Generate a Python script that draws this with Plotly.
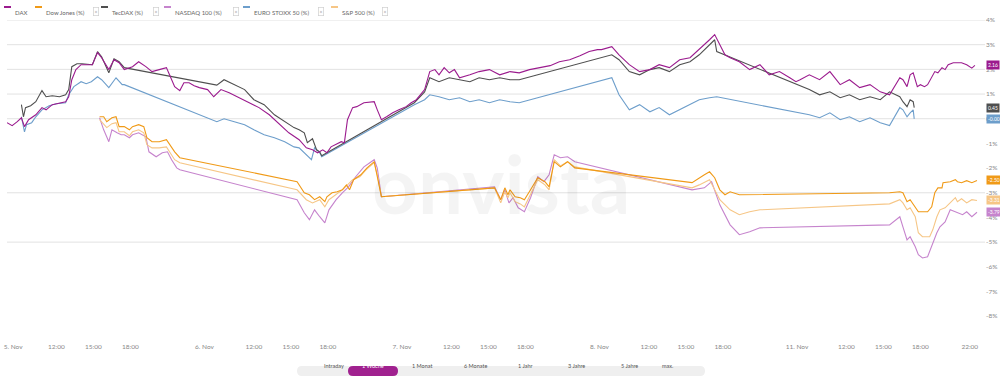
import plotly.graph_objects as go
import pandas as pd

# ---------------- data (percent change) ----------------
dax_time = ["11-05 08:00","11-05 08:25","11-05 08:50","11-05 09:10","11-05 09:25","11-05 09:45","11-05 10:20","11-05 10:50","11-05 11:10","11-05 11:40","11-05 12:45","11-05 13:00","11-05 13:15","11-05 13:35","11-05 14:00","11-05 14:25","11-05 14:55","11-05 15:20","11-05 15:40","11-05 16:15","11-05 16:40","11-05 17:05","11-05 17:30","11-05 18:10","11-05 18:40","11-05 19:15","11-05 19:45","11-05 20:20","11-05 20:55","11-05 21:10","11-05 21:35","11-05 22:00","11-05 22:20","11-05 22:45","11-05 23:10","11-05 23:35",
            "11-06 08:15","11-06 08:45","11-06 09:20","11-06 10:00","11-06 10:50","11-06 11:40","11-06 12:25","11-06 13:15","11-06 14:05","11-06 14:50","11-06 15:40","11-06 16:15","11-06 16:45","11-06 17:10","11-06 17:35","11-06 17:55","11-06 18:15","11-06 18:40","11-06 19:05","11-06 19:20","11-06 19:35","11-06 20:00","11-06 20:20","11-06 20:55","11-06 21:45","11-06 22:00","11-06 22:20","11-06 22:45","11-06 23:15","11-06 23:45",
            "11-07 08:20","11-07 08:45","11-07 09:10","11-07 09:50","11-07 10:15","11-07 10:40","11-07 11:00","11-07 11:25","11-07 11:50","11-07 12:15","11-07 12:40","11-07 13:30","11-07 14:15","11-07 15:05","11-07 15:55","11-07 16:45","11-07 17:30","11-07 18:20","11-07 19:10","11-07 20:00","11-07 20:45","11-07 21:35","11-07 22:25","11-07 23:10","11-07 23:50",
            "11-08 08:10","11-08 09:00","11-08 09:35","11-08 10:25","11-08 11:15","11-08 12:05","11-08 12:50","11-08 13:40","11-08 14:30","11-08 15:20","11-08 16:05","11-08 16:30","11-08 16:55","11-08 17:20","11-08 17:45","11-08 18:10","11-08 18:35","11-08 19:20","11-08 20:10","11-08 21:00","11-08 21:45","11-08 22:35","11-08 23:25","11-08 23:55",
            "11-11 08:15","11-11 09:00","11-11 09:50","11-11 10:40","11-11 11:30","11-11 12:15","11-11 13:05","11-11 13:55","11-11 14:45","11-11 15:30","11-11 16:20","11-11 16:35","11-11 16:55","11-11 17:10","11-11 17:25","11-11 17:45","11-11 18:00","11-11 18:20","11-11 18:35","11-11 18:55","11-11 19:10","11-11 19:25","11-11 19:45","11-11 20:00","11-11 20:15","11-11 20:40","11-11 21:20","11-11 21:45","11-11 22:10","11-11 22:25"]
dax_pct = [-0.16,-0.28,-0.12,0.04,-0.32,-0.04,0.16,0.45,0.36,0.57,0.69,0.89,1.58,1.99,2.19,2.19,2.19,2.68,2.47,1.99,2.39,2.27,1.99,2.11,2.31,2.11,1.91,1.99,2.07,1.78,1.30,1.14,1.46,1.46,1.34,1.26,
           1.18,0.89,1.18,1.05,0.85,0.65,0.45,0.16,-0.24,-0.57,-0.85,-1.18,-1.26,-1.38,-1.26,-1.38,-1.14,-1.05,-0.93,-0.97,-0.04,0.45,0.49,0.65,0.69,0.36,-0.04,0.08,0.24,0.36,
           0.49,0.65,0.77,1.18,1.91,1.99,1.78,2.07,1.86,1.99,1.66,1.78,1.91,1.99,1.78,1.91,1.86,1.99,2.07,2.15,2.31,2.39,2.55,2.72,2.80,
           2.80,2.92,2.59,2.19,1.91,1.99,2.19,2.07,2.39,2.47,2.80,3.00,3.20,3.41,3.00,2.59,2.47,2.31,1.99,2.19,1.78,1.91,1.66,1.50,
           1.58,1.78,1.58,1.91,1.38,1.58,1.26,1.38,1.09,0.97,1.66,1.58,1.30,1.78,1.86,1.30,1.38,1.30,1.38,1.70,1.91,1.86,2.07,1.99,2.19,2.27,2.27,2.19,2.05,2.16]

tecdax_time = ["11-05 09:10","11-05 09:20","11-05 09:30","11-05 09:55","11-05 10:20","11-05 10:50","11-05 11:10","11-05 11:40","11-05 12:15","11-05 12:45","11-05 13:00","11-05 13:15","11-05 13:40","11-05 14:05","11-05 14:55","11-05 15:20","11-05 15:40","11-05 16:15","11-05 16:40","11-05 17:05","11-05 17:30",
               "11-06 09:00","11-06 09:35","11-06 10:25","11-06 11:15","11-06 12:00","11-06 12:50","11-06 13:40","11-06 14:30","11-06 15:15","11-06 15:40","11-06 16:05","11-06 16:20","11-06 16:45","11-06 17:05","11-06 17:20","11-06 17:30",
               "11-07 09:00","11-07 09:50","11-07 10:15","11-07 11:00","11-07 11:50","11-07 12:40","11-07 13:30","11-07 14:15","11-07 15:05","11-07 15:55","11-07 16:45","11-07 17:30",
               "11-08 09:00","11-08 09:35","11-08 10:25","11-08 11:15","11-08 12:05","11-08 12:50","11-08 13:40","11-08 14:30","11-08 15:20","11-08 16:05","11-08 16:55","11-08 17:20","11-08 17:30",
               "11-11 09:00","11-11 09:50","11-11 10:40","11-11 11:30","11-11 12:15","11-11 13:05","11-11 13:55","11-11 14:45","11-11 15:30","11-11 16:20","11-11 16:35","11-11 16:55","11-11 17:10","11-11 17:25","11-11 17:30"]
tecdax_pct = [0.57,0.08,0.45,0.53,0.69,1.14,0.89,0.93,0.89,0.97,1.18,2.11,2.23,2.23,2.19,2.72,2.51,1.86,2.43,2.31,2.07,
              1.36,1.58,1.38,1.18,0.77,0.57,0.16,-0.12,-0.36,-0.45,-0.57,-0.97,-0.81,-1.26,-1.34,-1.50,
              0.65,1.09,1.66,1.50,1.66,1.58,1.50,1.66,1.58,1.66,1.58,1.58,
              2.59,2.39,1.91,1.78,1.99,2.07,1.91,2.19,2.31,2.59,3.00,3.20,2.72,
              1.18,0.97,1.09,0.85,0.97,0.77,0.89,0.77,1.09,0.89,0.69,0.49,0.77,0.69,0.45]

stoxx_time = ["11-05 09:10","11-05 09:25","11-05 09:35","11-05 10:00","11-05 10:20","11-05 10:50","11-05 11:25","11-05 12:00","11-05 12:45","11-05 13:00","11-05 13:25","11-05 14:00","11-05 14:25","11-05 14:50","11-05 15:20","11-05 15:40","11-05 16:15","11-05 16:50","11-05 17:20","11-05 17:30",
              "11-06 09:00","11-06 09:35","11-06 10:25","11-06 11:15","11-06 12:00","11-06 12:50","11-06 13:40","11-06 14:30","11-06 15:15","11-06 15:40","11-06 16:40","11-06 16:55","11-06 17:20","11-06 17:30",
              "11-07 09:00","11-07 09:50","11-07 10:15","11-07 11:00","11-07 11:50","11-07 12:40","11-07 13:30","11-07 14:15","11-07 15:05","11-07 15:55","11-07 16:45","11-07 17:30",
              "11-08 09:00","11-08 09:35","11-08 10:25","11-08 11:15","11-08 12:05","11-08 12:50","11-08 13:40","11-08 14:30","11-08 15:20","11-08 16:05","11-08 16:55","11-08 17:30",
              "11-11 09:00","11-11 09:50","11-11 10:40","11-11 11:30","11-11 12:15","11-11 13:05","11-11 13:55","11-11 14:45","11-11 15:30","11-11 16:20","11-11 16:35","11-11 16:55","11-11 17:10","11-11 17:25","11-11 17:30"]
stoxx_pct = [0.08,-0.53,-0.24,-0.16,0.08,0.36,0.53,0.61,0.65,0.97,1.30,1.50,1.42,1.50,1.70,1.58,1.26,1.66,1.38,1.38,
             -0.12,0.00,-0.12,-0.24,-0.45,-0.65,-0.77,-0.93,-1.14,-1.18,-1.66,-1.18,-1.38,-1.54,
             0.57,0.77,0.97,0.89,0.77,0.85,0.69,0.77,0.65,0.77,0.69,0.65,
             1.66,0.97,0.36,0.57,0.28,0.45,0.16,0.36,0.57,0.77,0.85,0.89,
             0.16,0.04,0.24,-0.04,0.08,-0.12,0.04,-0.16,-0.28,0.45,0.36,0.08,0.24,0.36,-0.004]

dow_time = ["11-05 15:30","11-05 15:50","11-05 16:05","11-05 16:30","11-05 16:50","11-05 17:05","11-05 17:30","11-05 17:55","11-05 18:10","11-05 18:40","11-05 19:05","11-05 19:20","11-05 19:45","11-05 20:20","11-05 20:55","11-05 21:10","11-05 21:35","11-05 22:00",
            "11-06 15:30","11-06 16:05","11-06 16:30","11-06 16:55","11-06 17:20","11-06 17:45","11-06 17:55","11-06 18:20","11-06 18:45","11-06 19:10","11-06 19:30","11-06 19:45","11-06 20:05","11-06 20:40","11-06 21:10","11-06 21:45","11-06 22:00","11-06 22:20",
            "11-07 15:30","11-07 16:00","11-07 16:20","11-07 16:35","11-07 16:45","11-07 17:10","11-07 17:35","11-07 17:55","11-07 18:25","11-07 19:00","11-07 19:35","11-07 19:55","11-07 20:20","11-07 20:50","11-07 21:25","11-07 22:00",
            "11-08 15:30","11-08 16:05","11-08 16:30","11-08 16:55","11-08 17:20","11-08 17:45","11-08 18:10","11-08 18:35","11-08 19:20",
            "11-11 15:30","11-11 16:20","11-11 16:35","11-11 16:55","11-11 17:10","11-11 17:35","11-11 17:50","11-11 18:10","11-11 18:35","11-11 18:55","11-11 19:10","11-11 19:25","11-11 19:45","11-11 19:50","11-11 20:25","11-11 20:50","11-11 21:00","11-11 21:20","11-11 21:45","11-11 22:10","11-11 22:35"]
dow_pct = [0.08,0.08,-0.12,0.04,0.08,-0.32,-0.32,-0.45,-0.32,-0.24,-0.32,-0.77,-0.93,-0.93,-0.85,-1.05,-1.34,-1.58,
           -2.55,-3.00,-3.08,-3.28,-3.16,-3.36,-3.16,-3.00,-2.96,-2.88,-2.68,-2.88,-2.47,-2.27,-1.99,-1.74,-2.39,-3.16,
           -2.80,-3.28,-2.80,-3.08,-2.88,-3.16,-3.20,-3.28,-2.88,-2.39,-2.55,-2.76,-1.74,-1.95,-1.74,-1.99,
           -2.59,-2.39,-2.27,-2.15,-2.39,-2.88,-3.08,-2.96,-3.08,
           -3.00,-2.96,-3.00,-3.36,-3.28,-3.61,-3.77,-3.77,-3.77,-3.57,-3.00,-2.80,-2.80,-2.59,-2.55,-2.47,-2.55,-2.59,-2.51,-2.59,-2.50]

spx_time = ["11-05 15:30","11-05 15:50","11-05 16:05","11-05 16:30","11-05 16:50","11-05 17:05","11-05 17:30","11-05 17:55","11-05 18:10","11-05 18:40","11-05 19:05","11-05 19:20","11-05 19:45","11-05 20:20","11-05 20:55","11-05 21:10","11-05 21:35","11-05 22:00",
            "11-06 15:30","11-06 16:15","11-06 16:45","11-06 17:20","11-06 17:45","11-06 18:05","11-06 18:40","11-06 19:10","11-06 19:35","11-06 20:00","11-06 20:35","11-06 21:05","11-06 21:45","11-06 22:00","11-06 22:20",
            "11-07 15:30","11-07 16:00","11-07 16:20","11-07 16:35","11-07 16:45","11-07 17:10","11-07 17:35","11-07 17:55","11-07 18:25","11-07 19:00","11-07 19:35","11-07 19:55","11-07 20:20","11-07 20:50","11-07 21:25","11-07 22:00",
            "11-08 15:30","11-08 16:05","11-08 16:55","11-08 17:20","11-08 17:45","11-08 18:35","11-08 19:20","11-08 20:10","11-08 21:00",
            "11-11 15:30","11-11 16:20","11-11 16:35","11-11 16:55","11-11 17:10","11-11 17:35","11-11 17:50","11-11 18:10","11-11 18:45","11-11 19:00","11-11 19:20","11-11 19:35","11-11 20:00","11-11 20:25","11-11 20:50","11-11 21:00","11-11 21:20","11-11 21:45","11-11 22:10","11-11 22:35"]
spx_pct = [-0.04,-0.24,-0.36,-0.20,-0.16,-0.53,-0.53,-0.69,-0.53,-0.45,-0.57,-1.05,-1.18,-1.18,-1.14,-1.34,-1.66,-1.78,
           -2.88,-3.28,-3.41,-3.28,-3.57,-3.28,-3.08,-2.88,-2.68,-2.47,-2.35,-2.07,-1.78,-2.27,-3.16,
           -2.80,-3.41,-2.96,-3.20,-3.00,-3.36,-3.45,-3.57,-3.08,-2.47,-2.68,-2.88,-1.66,-1.91,-1.74,-1.95,
           -2.80,-2.68,-2.47,-2.88,-3.28,-3.69,-3.89,-3.77,-3.69,
           -3.45,-3.28,-3.41,-3.69,-3.61,-3.97,-4.62,-4.78,-4.78,-4.50,-3.97,-3.69,-3.61,-3.41,-3.20,-3.36,-3.24,-3.41,-3.28,-3.31]

ndx_time = ["11-05 15:30","11-05 15:50","11-05 16:15","11-05 16:30","11-05 16:55","11-05 17:15","11-05 17:30","11-05 17:55","11-05 18:10","11-05 18:40","11-05 19:15","11-05 19:30","11-05 20:05","11-05 20:35","11-05 21:00","11-05 21:20","11-05 21:45","11-05 22:00",
            "11-06 15:30","11-06 16:05","11-06 16:30","11-06 16:55","11-06 17:20","11-06 17:45","11-06 18:05","11-06 18:40","11-06 19:10","11-06 19:40","11-06 20:15","11-06 20:55","11-06 21:45","11-06 22:00","11-06 22:20",
            "11-07 15:30","11-07 16:00","11-07 16:20","11-07 16:40","11-07 17:00","11-07 17:25","11-07 17:55","11-07 18:25","11-07 19:00","11-07 19:30","11-07 19:55","11-07 20:20","11-07 20:50","11-07 21:25","11-07 22:00",
            "11-08 15:30","11-08 16:30","11-08 17:05","11-08 17:45","11-08 18:35","11-08 19:20","11-08 20:10","11-08 21:00",
            "11-11 15:30","11-11 16:20","11-11 16:35","11-11 16:55","11-11 17:10","11-11 17:35","11-11 17:50","11-11 18:10","11-11 18:35","11-11 19:00","11-11 19:20","11-11 19:35","11-11 20:00","11-11 20:25","11-11 20:50","11-11 21:00","11-11 21:25","11-11 21:45","11-11 22:10","11-11 22:35"]
ndx_pct = [0.04,-0.45,-0.93,-0.45,-0.57,-0.65,-0.65,-0.77,-0.65,-0.57,-0.73,-1.34,-1.54,-1.38,-1.34,-1.66,-1.99,-2.07,
           -3.28,-3.81,-4.09,-3.69,-3.97,-4.22,-3.69,-3.28,-3.00,-2.76,-2.35,-1.95,-1.66,-2.00,-3.16,
           -2.76,-3.28,-2.88,-3.41,-3.20,-3.61,-3.77,-3.20,-2.35,-2.55,-2.27,-1.46,-1.58,-1.54,-1.74,
           -2.88,-2.80,-2.55,-3.49,-4.30,-4.70,-4.58,-4.42,
           -4.30,-3.97,-4.38,-4.91,-4.78,-5.19,-5.51,-5.64,-5.59,-5.03,-4.62,-4.38,-4.18,-3.69,-3.77,-3.81,-3.89,-3.77,-3.97,-3.79]

series_names = ["DAX", "Dow Jones (%)", "TecDAX (%)", "NASDAQ 100 (%)", "EURO STOXX 50 (%)", "S&P 500 (%)"]
series_colors = ["#9b1b8e", "#f09a17", "#4f4f4f", "#c684cd", "#6d9ecb", "#f6c686"]

x_tick_times = ["11-05 08:30","11-05 12:00","11-05 15:00","11-05 18:00",
                "11-06 08:00","11-06 12:00","11-06 15:00","11-06 18:00",
                "11-07 08:00","11-07 12:00","11-07 15:00","11-07 18:00",
                "11-08 08:00","11-08 12:00","11-08 15:00","11-08 18:00",
                "11-11 08:00","11-11 12:00","11-11 15:00","11-11 18:00","11-11 22:00"]
x_tick_text = ["5. Nov","12:00","15:00","18:00","6. Nov","12:00","15:00","18:00",
               "7. Nov","12:00","15:00","18:00","8. Nov","12:00","15:00","18:00",
               "11. Nov","12:00","15:00","18:00","22:00"]
y_tick_vals = [4, 3, 2, 1, 0, -1, -2, -3, -4, -5, -6, -7, -8]
y_tick_text = ["4%", "3%", "2%", "1%", "0%", "-1%", "-2%", "-3%", "-4%", "-5%", "-6%", "-7%", "-8%"]
grid_vals = [4, 3, 2, 1, 0, -3, -5]
range_buttons = ["Intraday", "1 Woche", "1 Monat", "6 Monate", "1 Jahr", "3 Jahre", "5 Jahre", "max."]

YEAR = "2024-"
def ts(lst):
    return pd.to_datetime([YEAR + s for s in lst])

# ---------------- figure ----------------
W, H = 1000, 377
ML, MR, MT, MB = 7, 15, 20, 46
PW, PH = W - ML - MR, H - MT - MB
FONT = "Lato, Open Sans, sans-serif"

def px_x(px):
    return (px - ML) / PW

def px_y(py):
    return (H - MB - py) / PH

fig = go.Figure()
data = [
    (stoxx_time, stoxx_pct, 4),
    (tecdax_time, tecdax_pct, 2),
    (ndx_time, ndx_pct, 3),
    (spx_time, spx_pct, 5),
    (dow_time, dow_pct, 1),
    (dax_time, dax_pct, 0),
]
for t, v, i in data:
    fig.add_trace(go.Scatter(x=ts(t), y=v, mode="lines", name=series_names[i],
                             line=dict(color=series_colors[i], width=1.1),
                             hoverinfo="skip"))

shapes = []
annotations = []

# gridlines
for g in grid_vals:
    shapes.append(dict(type="line", xref="paper", yref="y", x0=0, x1=1, y0=g, y1=g,
                       line=dict(color="#e2e2e2", width=1), layer="below"))

# watermark
annotations.append(dict(text="<b>onvista</b>", x=px_x(501), y=px_y(183), xref="paper", yref="paper",
                        showarrow=False, font=dict(size=80, color="rgba(0,0,0,0.045)", family=FONT)))

# last-value boxes
last_vals = [dax_pct[-1], dow_pct[-1], tecdax_pct[-1], ndx_pct[-1], stoxx_pct[-1], spx_pct[-1]]
for i, v in enumerate(last_vals):
    annotations.append(dict(text=f"{v:.2f}", x=1, xref="paper", y=v, yref="y", xanchor="left",
                            xshift=1, showarrow=False, bgcolor=series_colors[i], borderpad=1,
                            font=dict(size=5, color="white", family=FONT)))

# legend row
leg_x = [4, 35, 101, 164, 243, 331]
leg_close = [False, True, True, True, True, True]
ly = px_y(7)
close_x = [0, 93, 153, 233, 318, 385]
for i, name in enumerate(series_names):
    x0 = leg_x[i]
    shapes.append(dict(type="line", xref="paper", yref="paper", x0=px_x(x0), x1=px_x(x0 + 7),
                       y0=ly, y1=ly, line=dict(color=series_colors[i], width=2)))
    annotations.append(dict(text=name, x=px_x(x0 + 9), y=ly, xref="paper", yref="paper",
                            xanchor="left", showarrow=False,
                            font=dict(size=6, color="#666", family=FONT)))
    if leg_close[i]:
        annotations.append(dict(text="×", x=px_x(close_x[i]), y=ly, xref="paper", yref="paper",
                                showarrow=False, bordercolor="#cfcfcf", borderwidth=0.7, borderpad=0.8,
                                font=dict(size=5, color="#999", family=FONT)))

# range buttons bar
def pill(cx, cy, w, h, color):
    a, b = w / 2, h / 2
    r = b
    path = (f"M {-a + r},{-b} L {a - r},{-b} Q {a},{-b} {a},0 Q {a},{b} {a - r},{b} "
            f"L {-a + r},{b} Q {-a},{b} {-a},0 Q {-a},{-b} {-a + r},{-b} Z")
    return dict(type="path", xref="paper", yref="paper", xsizemode="pixel", ysizemode="pixel",
                xanchor=px_x(cx), yanchor=px_y(cy), path=path, fillcolor=color,
                line=dict(width=0), layer="above")

shapes.append(pill(501, 371, 408, 10, "#efefef"))
shapes.append(pill(373, 371, 50, 10, "#a0218f"))
btn_x = [322, 373, 422, 475, 525, 576, 629, 675]
for i, b in enumerate(range_buttons):
    annotations.append(dict(text=b, x=px_x(btn_x[i]), y=px_y(371), xref="paper", yref="paper",
                            showarrow=False,
                            font=dict(size=5.5, color="white" if i == 1 else "#555", family=FONT)))

fig.update_layout(
    width=W, height=H,
    margin=dict(l=ML, r=MR, t=MT, b=MB, autoexpand=False),
    plot_bgcolor="white", paper_bgcolor="white",
    showlegend=False,
    shapes=shapes, annotations=annotations,
    font=dict(family=FONT),
    xaxis=dict(type="date", automargin=False,
               range=["2024-11-05 08:00", "2024-11-11 23:14"],
               rangebreaks=[dict(bounds=["sat", "mon"]), dict(bounds=[0, 8], pattern="hour")],
               tickvals=ts(x_tick_times), ticktext=x_tick_text, ticklabeloverflow="allow",
               showgrid=False, zeroline=False, showline=False,
               ticks="outside", ticklen=9, tickcolor="rgba(0,0,0,0)",
               tickfont=dict(size=6.5, color="#888", family=FONT)),
    yaxis=dict(side="right", range=[-8.6, 4.0], automargin=False,
               tickvals=y_tick_vals, ticktext=y_tick_text,
               showgrid=False, zeroline=False, showline=False, ticks="",
               tickfont=dict(size=6.5, color="#888", family=FONT)),
)

# remove the browser's default page margin so the figure sits at the window's top-left corner
fig.write_html("out.html", config={"displayModeBar": False, "staticPlot": True},
               post_script="document.body.style.margin='0';document.body.style.overflow='hidden';")
